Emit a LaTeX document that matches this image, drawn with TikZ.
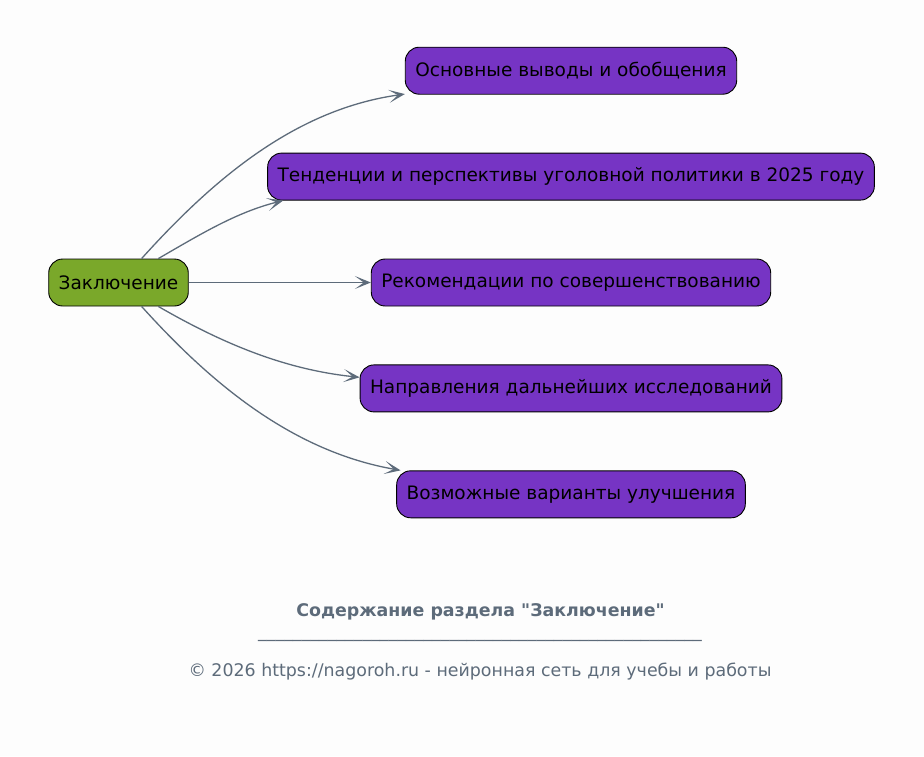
\documentclass[tikz,border=0pt]{standalone}
\usepackage{fontspec}
\setmainfont{DejaVu Sans}[Ligatures=TeXOff]
\usepackage{tikz}
\usetikzlibrary{shapes,arrows.meta,positioning}
\definecolor{green}{RGB}{122, 168, 42}
\definecolor{purple}{RGB}{118, 52, 196}
\definecolor{slate}{RGB}{93, 107, 122}
\definecolor{paper}{RGB}{253, 253, 253}
\tikzstyle{topic} = [rectangle, rounded corners=14pt, draw=black, line width=0.9pt, fill=green, text=black, font=\fontsize{18.5}{21}\selectfont, minimum height=47pt, inner xsep=10pt]
\tikzstyle{item} = [rectangle, rounded corners=14pt, draw=black, line width=0.9pt, fill=purple, text=black, font=\fontsize{18.5}{21}\selectfont, minimum height=47pt, inner xsep=10pt]
\tikzstyle{note} = [text=slate, font=\fontsize{17.4}{20}\selectfont]
\tikzstyle{tedge}  = [draw=slate, line width=1.3pt, -{Stealth[length=16pt, width=13pt, inset=9pt]}]

\begin{document}
\begin{tikzpicture}[x=1pt, y=1pt]

\fill[paper] (0,0) rectangle (924,-756);
\useasboundingbox (0,0) rectangle (924,-756);

% nodes =============================

% root
\node[topic] (root) at (118.5,-282.5) {Заключение};

% items
\node[item] (n3) at (571,-282.5) {Рекомендации по совершенствованию};
\node[item, above=58pt of n3] (n2) {Тенденции и перспективы уголовной политики в 2025 году};
\node[item, above=58pt of n2] (n1) {Основные выводы и обобщения};
\node[item, below=58pt of n3] (n4) {Направления дальнейших исследований};
\node[item, below=58pt of n4] (n5) {Возможные варианты улучшения};

% footer
\node[note, font=\fontsize{17.4}{20}\selectfont\bfseries] (title) at (480.5,-612) {Содержание раздела "Заключение"};
\node[note, anchor=base] (sep) at (480,-637) {\foreach \i in {1,...,51}{\_}};
\node[note] (copy) at (480,-672) {© 2026 https://nagoroh.ru - нейронная сеть для учебы и работы};

%edges
\path[tedge] (root.46) to[out=48, in=188, looseness=0.9] (n1.188);
\path[tedge] (root.31) to[out=30, in=194, looseness=0.9] ([xshift=16pt]n2.south west);
\path[tedge] (root) -- (n3);
\path[tedge] (root.-31) to[out=-30, in=174, looseness=0.9] (n4.177);
\path[tedge] (root.-46) to[out=-48, in=170, looseness=0.9] (n5.172);

\end{tikzpicture}
\end{document}
